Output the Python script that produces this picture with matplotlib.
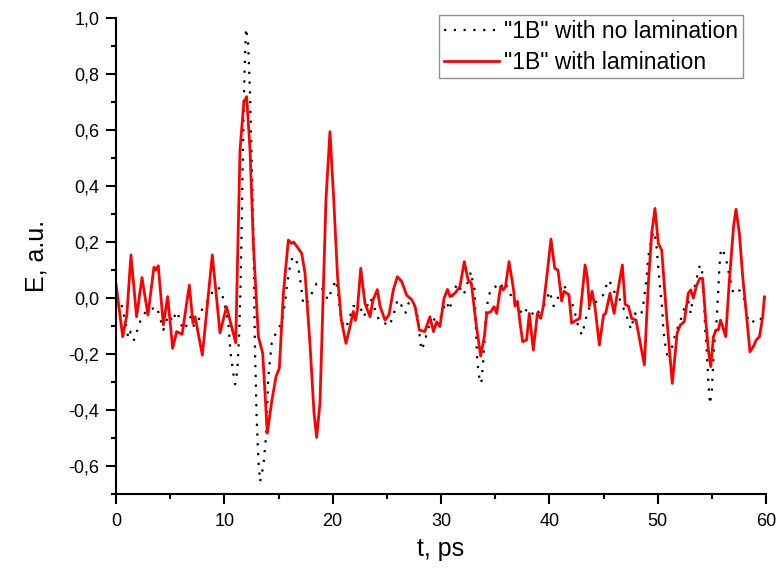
import numpy as np
import matplotlib
matplotlib.use('Agg')
import matplotlib.pyplot as plt
from matplotlib.ticker import MultipleLocator, FuncFormatter

# "1B" with no lamination (dotted black)
t_nolam = [0.0, 0.37, 0.6, 0.98, 1.14, 1.35, 1.66, 1.97, 2.28, 2.83, 3.45, 3.75, 4.0, 4.37,
           4.83, 5.3, 5.5, 5.7, 5.97, 6.25, 6.65, 6.9, 7.2, 7.44, 7.75, 8.0, 8.5, 8.92, 9.45,
           9.77, 10.0, 10.37, 10.58, 10.83, 11.0, 11.2, 11.38, 11.5, 11.6, 11.8, 11.9, 12.0,
           12.2, 12.37, 12.52, 12.68, 12.83, 12.98, 13.14, 13.3, 13.6, 13.85, 14.06, 14.37,
           14.68, 14.89, 15.3, 15.6, 15.8, 16.06, 16.3, 16.6, 16.8, 17.05, 17.3, 17.6, 17.9,
           18.2, 18.52, 18.7, 19.1, 19.4, 19.6, 19.9, 20.3, 20.5, 20.8, 21.2, 21.5, 21.9, 22.5,
           22.9, 23.4, 23.7, 24.0, 24.37, 24.8, 25.23, 25.5, 25.8, 25.97, 26.3, 26.5, 26.75,
           27.0, 27.4, 27.7, 27.9, 28.06, 28.2, 28.45, 28.7, 28.98, 29.4, 29.9, 30.1, 30.5,
           30.8, 31.1, 31.5, 32.1, 32.4, 32.77, 32.9, 33.1, 33.23, 33.35, 33.48, 33.6, 33.75,
           33.9, 34.2, 34.4, 34.6, 35.0, 35.4, 35.75, 35.9, 36.2, 36.83, 37.2, 37.6, 37.96,
           38.36, 38.57, 38.8, 39.1, 39.45, 39.76, 40.0, 40.2, 40.4, 40.7, 41.0, 41.3, 41.6,
           42.0, 42.3, 42.67, 43.0, 43.1, 43.3, 43.57, 43.9, 44.35, 44.67, 44.98, 45.23, 45.45,
           45.75, 46.06, 46.4, 46.7, 47.07, 47.3, 47.54, 47.7, 47.9, 48.2, 48.5, 48.74, 48.98,
           49.14, 49.35, 49.6, 49.85, 49.97, 50.15, 50.3, 50.43, 50.52, 50.77, 50.98, 51.2,
           51.45, 51.75, 52.06, 52.2, 52.5, 52.83, 53.05, 53.3, 53.6, 53.9, 54.1, 54.3, 54.4,
           54.55, 54.68, 54.83, 55.0, 55.14, 55.3, 55.45, 55.6, 55.7, 55.8, 56.0, 56.2, 56.4,
           56.6, 56.98, 57.3, 57.6, 57.97, 58.37, 58.68, 59.08, 59.45, 59.9]
e_nolam = [0.0, -0.007, -0.037, -0.108, -0.144, -0.12, -0.15, -0.114, -0.079, -0.043, -0.037,
           -0.031, -0.061, -0.114, -0.061, -0.085, -0.049, -0.055, -0.09, -0.114, -0.09, -0.067,
           -0.102, -0.12, -0.055, -0.037, -0.007, 0.023, 0.038, 0.017, -0.019, -0.09, -0.198,
           -0.27, -0.308, -0.26, -0.12, 0.052, 0.255, 0.707, 0.85, 0.963, 0.91, 0.73, 0.505,
           0.231, -0.186, -0.424, -0.579, -0.656, -0.6, -0.495, -0.281, -0.162, -0.132, -0.114,
           -0.09, -0.019, 0.052, 0.112, 0.148, 0.136, 0.118, 0.052, -0.025, -0.019, -0.001,
           0.029, 0.052, 0.052, 0.029, 0.005, -0.007, 0.029, 0.064, 0.017, -0.084, -0.108,
           -0.079, -0.029, -0.029, -0.067, -0.001, -0.013, -0.055, -0.085, -0.09, -0.1, -0.073,
           -0.037, -0.007, -0.019, -0.052, -0.052, -0.019, -0.013, -0.043, -0.079, -0.15,
           -0.186, -0.162, -0.125, -0.09, -0.076, -0.079, -0.049, -0.013, -0.043, 0.017, 0.052,
           0.011, 0.047, 0.094, 0.064, 0.029, -0.12, -0.227, -0.269, -0.305, -0.295, -0.222,
           -0.037, 0.005, 0.031, 0.041, 0.029, 0.052, 0.058, 0.029, -0.019, -0.04, -0.061,
           -0.037, -0.049, -0.064, -0.049, -0.049, -0.029, -0.007, 0.024, -0.001, -0.029,
           -0.013, 0.029, 0.052, 0.024, -0.007, -0.043, -0.102, -0.132, -0.12, -0.085, -0.043,
           -0.025, -0.013, -0.001, 0.011, 0.041, 0.064, 0.047, 0.017, 0.005, -0.025, -0.055,
           -0.085, -0.112, -0.085, -0.055, -0.067, -0.055, -0.007, 0.076, 0.148, 0.195, 0.237,
           0.207, 0.148, 0.071, 0.005, -0.042, -0.114, -0.186, -0.221, -0.198, -0.156, -0.114,
           -0.09, -0.067, -0.031, -0.013, -0.055, 0.017, 0.07, 0.118, 0.094, -0.029, -0.12,
           -0.198, -0.305, -0.379, -0.33, -0.221, -0.12, -0.079, 0.034, 0.112, 0.16, 0.177,
           0.148, 0.124, 0.082, 0.017, 0.029, 0.026, -0.001, -0.085, -0.09, -0.073, -0.079,
           -0.055]

# "1B" with lamination (solid red)
t_lam = [0.0, 0.62, 1.0, 1.38, 1.9, 2.4, 2.95, 3.5, 3.7, 3.9, 4.37, 4.77, 5.23, 5.6, 6.1,
         6.77, 7.1, 7.3, 7.97, 8.89, 9.6, 10.2, 11.05, 11.45, 11.8, 12.06, 12.37, 12.68,
         13.14, 13.54, 13.97, 14.37, 14.77, 15.08, 15.45, 15.91, 16.2, 16.4, 17.14, 17.45,
         17.9, 18.28, 18.52, 18.83, 19.14, 19.38, 19.75, 20.1, 20.45, 20.8, 21.23, 21.6,
         21.9, 22.1, 22.28, 22.59, 22.98, 23.45, 23.7, 24.12, 24.37, 24.83, 25.2, 25.6,
         25.97, 26.37, 26.83, 27.3, 27.6, 28.0, 28.5, 28.98, 29.3, 29.6, 29.9, 30.28, 30.6,
         30.83, 31.29, 31.75, 32.15, 32.5, 32.8, 33.23, 33.66, 34.0, 34.22, 34.6, 34.9,
         35.14, 35.5, 35.75, 35.95, 36.28, 36.7, 36.83, 37.06, 37.3, 37.54, 37.9, 38.15,
         38.52, 38.9, 39.2, 39.45, 39.8, 40.15, 40.5, 40.8, 41.14, 41.35, 41.8, 42.06, 42.5,
         42.8, 43.3, 43.5, 43.7, 43.94, 44.2, 44.62, 45.0, 45.2, 45.6, 45.98, 46.2, 46.74,
         47.0, 47.3, 47.6, 48.0, 48.37, 48.77, 49.14, 49.45, 49.75, 50.06, 50.37, 50.83,
         51.35, 51.8, 52.1, 52.45, 52.83, 53.05, 53.3, 53.6, 53.9, 54.15, 54.46, 54.68, 54.9,
         55.15, 55.4, 55.6, 55.8, 56.0, 56.28, 56.6, 57.0, 57.23, 57.54, 57.85, 58.15, 58.52,
         58.83, 59.1, 59.4, 59.7, 59.85, 60.0]
e_lam = [0.05, -0.138, -0.06, 0.154, -0.067, 0.073, -0.061, 0.11, 0.1, 0.115, -0.096, 0.005,
         -0.18, -0.12, -0.13, 0.046, -0.09, -0.067, -0.204, 0.154, -0.125, -0.031, -0.16,
         0.53, 0.7, 0.719, 0.53, 0.195, -0.138, -0.197, -0.483, -0.37, -0.281, -0.25, 0.017,
         0.207, 0.195, 0.2, 0.16, 0.088, -0.161, -0.411, -0.498, -0.375, 0.029, 0.35, 0.594,
         0.35, 0.076, -0.079, -0.162, -0.102, -0.048, -0.08, -0.043, 0.106, -0.019, -0.067,
         -0.01, 0.03, -0.029, -0.079, -0.06, 0.029, 0.076, 0.059, 0.01, -0.006, -0.029,
         -0.114, -0.12, -0.067, -0.12, -0.085, -0.102, -0.001, 0.031, 0.005, 0.017, 0.041,
         0.13, 0.065, 0.053, -0.09, -0.207, -0.138, -0.055, -0.049, -0.031, -0.055, 0.041,
         0.029, 0.04, 0.13, 0.029, -0.029, -0.012, -0.09, -0.156, -0.15, -0.055, -0.186,
         -0.055, -0.073, -0.029, 0.088, 0.21, 0.106, 0.1, -0.011, 0.024, 0.012, -0.09,
         -0.079, -0.073, 0.118, 0.076, -0.029, 0.024, -0.029, -0.168, -0.061, -0.055, 0.017,
         -0.055, -0.001, 0.118, -0.023, -0.029, -0.073, -0.079, -0.156, -0.239, 0.052, 0.231,
         0.32, 0.195, 0.171, -0.067, -0.305, -0.125, -0.096, -0.085, 0.017, 0.029, 0.0,
         0.046, 0.07, 0.07, -0.09, -0.186, -0.245, -0.138, -0.114, -0.114, -0.079, -0.102,
         -0.138, 0.052, 0.254, 0.317, 0.231, 0.076, -0.042, -0.192, -0.174, -0.15, -0.138,
         -0.067, 0.005, 0.0]

plt.rcParams['font.family'] = ['Liberation Sans', 'DejaVu Sans']

fig = plt.figure(figsize=(7.76, 5.69), dpi=100)
ax = fig.add_axes([116/776, 1 - 494/569, 650/776, 476/569])

ax.plot(t_nolam, e_nolam, color='black', lw=1.6, linestyle=(0, (1, 3.4)),
        dash_capstyle='butt', label='"1B" with no lamination')
ax.plot(t_lam, e_lam, color='#ff0000', lw=2.0, label='"1B" with lamination')

ax.set_xlim(0, 60)
ax.set_ylim(-0.7, 1.0)
ax.xaxis.set_major_locator(MultipleLocator(10))
ax.xaxis.set_minor_locator(MultipleLocator(5))
ax.yaxis.set_major_locator(MultipleLocator(0.2))
ax.yaxis.set_minor_locator(MultipleLocator(0.1))
ax.yaxis.set_major_formatter(FuncFormatter(lambda v, p: ('%.1f' % v).replace('.', ',').replace('-0,0', '0,0')))
ax.xaxis.set_major_formatter(FuncFormatter(lambda v, p: '%d' % v))

for s in ['top', 'right']:
    ax.spines[s].set_visible(False)
for s in ['left', 'bottom']:
    ax.spines[s].set_linewidth(1.5)
ax.tick_params(which='major', direction='out', length=7, width=1.5, labelsize=13, pad=5)
ax.tick_params(axis='x', which='major', pad=7)
ax.tick_params(which='minor', direction='out', length=3.5, width=1.5)

ax.set_xlabel('t, ps', fontsize=18, labelpad=5)
ax.set_ylabel('E, a.u.', fontsize=18, labelpad=14)

leg = ax.legend(loc='upper left', bbox_to_anchor=(439/776, 1 - 15/569),
                bbox_transform=fig.transFigure, fontsize=16.5, frameon=True, fancybox=False,
                handlelength=2.4, handletextpad=0.25, borderpad=0.2, labelspacing=0.35,
                borderaxespad=0)
leg.get_frame().set_edgecolor('#777777')
leg.get_frame().set_linewidth(1.0)

fig.savefig('out.png', dpi=100)
